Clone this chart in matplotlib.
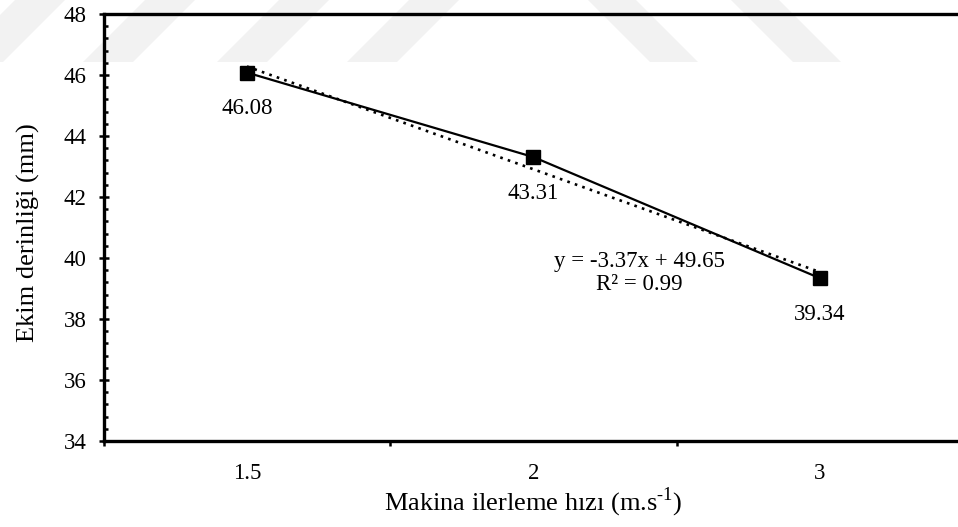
import numpy as np
import matplotlib
matplotlib.use("Agg")
import matplotlib.pyplot as plt
from matplotlib.patches import Polygon
from matplotlib.ticker import MultipleLocator, FixedLocator

# Sowing depth against machine forward speed
speeds = ["1.5", "2", "3"]
depth = [46.08, 43.31, 39.34]
y_ticks = [34, 36, 38, 40, 42, 44, 46, 48]

plt.rcParams["font.family"] = ["Liberation Serif", "DejaVu Serif"]
plt.rcParams["mathtext.fontset"] = "custom"
plt.rcParams["mathtext.rm"] = "Liberation Serif"

W, H = 958, 527
fig = plt.figure(figsize=(W / 100, H / 100), dpi=100)
fig.patch.set_facecolor("white")

# light diagonal background bands across the top of the page
band_col = "#f2f2f2"
def band(x0, width, shift, y_bot=62, y_top=-10):
    pts = [(x0, y_bot), (x0 + width, y_bot),
           (x0 + width + shift, y_top), (x0 + shift, y_top)]
    pts = [(px / W, 1 - py / H) for px, py in pts]
    fig.patches.append(Polygon(pts, closed=True, transform=fig.transFigure,
                               facecolor=band_col, edgecolor="none", zorder=-5))
for x0 in (-47, 83, 217, 347):
    band(x0, 50, 72)
for x0 in (650, 793):
    band(x0, 48, -72)

# axes box (the plot area runs slightly past the right edge)
left_px, right_px, top_px, bot_px = 103.7, 963.0, 14.0, 441.0
ax = fig.add_axes([left_px / W, 1 - bot_px / H,
                   (right_px - left_px) / W, (bot_px - top_px) / H])
ax.set_facecolor("none")

x = np.arange(1, len(speeds) + 1)
ax.plot(x, depth, color="black", lw=1.6, marker="s", ms=10,
        mfc="black", mec="black", zorder=4)

# linear trend
slope, intercept = np.polyfit(x, depth, 1)
fit = slope * x + intercept
r2 = 1 - np.sum((np.array(depth) - fit) ** 2) / np.sum((np.array(depth) - np.mean(depth)) ** 2)
ax.plot(x, fit, color="black", lw=1.9, linestyle=(0, (1, 2.0)), zorder=3)

for xi, v in zip(x, depth):
    ax.annotate(f"{v:.2f}", (xi, v), xytext=(0, -26), textcoords="offset points",
                ha="center", va="center", fontsize=16.5)

sign = "+" if intercept >= 0 else "-"
ax.text(2.37, 39.5, f"y = {slope:.2f}x {sign} {abs(intercept):.2f}\nR\u00b2 = {r2:.2f}",
        ha="center", va="center", fontsize=16.5, linespacing=1.15, multialignment="center")

ax.set_xlim(0.5, len(speeds) + 0.5)
ax.set_ylim(y_ticks[0], y_ticks[-1])

ax.set_xticks(x)
ax.set_xticklabels(speeds)
ax.xaxis.set_minor_locator(FixedLocator(np.arange(0.5, len(speeds) + 1, 1.0)))
ax.tick_params(axis="x", which="major", length=0, pad=15.5, labelsize=16.5)
ax.tick_params(axis="x", which="minor", direction="out", length=3.5, width=1.8)

ax.set_yticks(y_ticks)
ax.yaxis.set_minor_locator(MultipleLocator(0.4))
ax.tick_params(axis="y", which="major", direction="inout", length=7, width=1.8,
               pad=9, labelsize=16.5)
ax.tick_params(axis="y", which="minor", direction="in", length=3, width=1.8)

for s in ax.spines.values():
    s.set_linewidth(2.4)
    s.set_color("black")

ax.set_xlabel("Makina ilerleme hızı (m.s$^{\\mathregular{\u2010}1}$)", fontsize=19)
ax.set_ylabel("Ekim derinliği (mm)", fontsize=19)
ax.xaxis.set_label_coords(0.5, -0.105)
ax.yaxis.set_label_coords(-0.074, 0.489)

fig.savefig("out.png", dpi=100)
